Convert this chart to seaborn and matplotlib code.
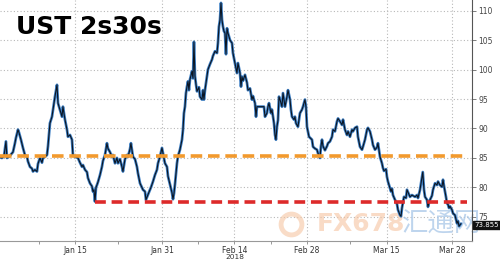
import numpy as np
import pandas as pd
import seaborn as sns
import matplotlib
matplotlib.use("Agg")
import matplotlib.pyplot as plt

# ---- data (x = trading days since Jan 1 2018, y = 2s30s spread, bp) ----
day = [-0.34, -0.07, 0.21, 0.34, 0.48, 0.62, 0.90, 1.17, 1.45, 1.72, 1.86, 2.14, 2.28, 2.55, 2.83,
       3.10, 3.38, 3.52, 3.79, 4.07, 4.21, 4.48, 4.76, 4.90, 5.17, 5.45, 5.59, 5.86, 6.14, 6.28,
       6.55, 6.83, 6.97, 7.24, 7.52, 7.66, 7.93, 8.21, 8.34, 8.62, 8.90, 9.03, 9.31, 9.59, 9.72,
       10.00, 10.41, 10.69, 10.97, 11.10, 11.38, 11.66, 11.79, 12.07, 12.34, 12.48, 12.62, 12.76,
       12.90, 13.03, 13.17, 13.45, 13.72, 13.86, 14.14, 14.41, 14.55, 14.83, 15.10, 15.24, 15.52,
       15.79, 15.93, 16.21, 16.48, 16.62, 16.90, 17.17, 17.31, 17.59, 17.72, 17.86, 18.00, 18.28,
       18.55, 18.69, 18.97, 19.24, 19.38, 19.66, 19.79, 20.07, 20.21, 20.48, 20.76, 21.03, 21.31,
       21.45, 21.72, 22.00, 22.14, 22.41, 22.69, 22.83, 23.10, 23.38, 23.52, 23.66, 23.79, 24.07,
       24.21, 24.48, 24.76, 24.90, 25.03, 25.17, 25.31, 25.45, 25.59, 25.72, 25.86, 26.14, 26.28,
       26.41, 26.55, 26.69, 26.83, 27.10, 27.24, 27.52, 27.66, 27.79, 27.93, 28.21, 28.34, 28.62,
       28.90, 29.03, 29.31, 29.59, 29.72, 29.86, 30.00, 30.14, 30.28, 30.41, 30.55, 30.69, 30.83,
       30.97, 31.10, 31.38, 31.66, 31.79, 32.07, 32.34, 32.48, 32.76, 32.90, 33.03, 33.17, 33.45,
       33.72, 33.86, 34.14, 34.41, 34.55, 34.83, 34.97, 35.10, 36.07, 36.21, 36.48, 36.62, 36.76,
       37.03, 37.17, 37.45, 37.59, 37.72, 37.86, 38.00, 38.14, 38.28, 38.55, 38.69, 38.83, 38.97,
       39.24, 39.38, 39.66, 39.79, 39.93, 40.21, 40.34, 40.48, 40.76, 40.90, 41.03, 41.31, 41.45,
       41.72, 41.86, 42.00, 42.28, 42.69, 42.83, 43.10, 43.38, 43.52, 43.79, 43.93, 44.07, 44.21,
       44.48, 44.76, 44.90, 45.17, 45.45, 45.59, 45.86, 46.14, 46.28, 46.55, 46.83, 46.97, 47.24,
       47.52, 47.66, 47.93, 48.21, 48.34, 48.62, 48.90, 49.03, 49.31, 49.59, 49.72, 50.00, 50.28,
       50.41, 50.69, 50.97, 51.10, 51.38, 51.66, 51.79, 52.07, 52.34, 52.48, 52.62, 52.90, 53.03,
       53.17, 53.45, 53.59, 53.72, 53.86, 54.14, 54.41, 54.55, 54.83, 54.97, 55.10, 55.24, 55.38,
       55.66, 55.79, 55.93, 56.21, 56.48, 56.62, 56.90, 57.17, 57.31, 57.59, 57.97, 58.14, 58.28,
       58.55, 58.69, 58.83, 58.97, 59.24, 59.38, 59.66, 59.93, 60.07, 60.34, 60.62, 60.76, 60.90,
       61.17, 61.31, 61.45, 61.59, 61.72, 62.00, 62.14, 62.41, 62.69, 62.83, 62.97, 63.24]
spread = [85.1, 85.0, 85.3, 86.5, 87.8, 85.0, 85.2, 85.6, 86.0, 87.5, 88.4, 89.8, 89.3, 88.1, 86.7,
          85.5, 85.2, 84.4, 83.5, 83.2, 82.7, 83.0, 82.7, 84.0, 85.0, 84.2, 85.0, 85.2, 85.5, 87.0,
          90.9, 92.0, 93.2, 95.4, 97.4, 94.3, 93.2, 92.0, 93.7, 91.5, 89.8, 88.6, 88.9, 88.1, 85.5,
          85.2, 85.0, 84.2, 83.5, 83.8, 83.0, 82.6, 81.6, 80.7, 80.2, 79.3, 79.6, 77.6,
          80.0, 80.4, 80.9, 82.1, 83.5, 84.5, 85.5, 87.5, 86.6, 86.0, 85.2, 85.5, 84.1,
          85.0, 84.1, 84.8, 83.5, 82.7, 84.8, 85.5, 85.2, 86.5, 87.5, 86.3, 85.2, 84.8,
          83.5, 82.4, 80.7, 80.0, 79.6, 79.3, 77.9, 78.8, 79.2, 80.0, 81.0, 82.1, 83.0,
          84.1, 85.2, 86.7, 85.8, 84.1, 83.5, 81.9, 80.5, 79.1, 78.0, 79.0, 80.5, 84.1,
          85.3, 86.4, 88.1, 89.8, 92.6, 93.7, 96.0, 97.1, 98.0, 96.5, 98.3, 99.7, 98.5,
          104.7, 98.9, 97.5, 96.3, 97.0, 95.4, 94.9, 96.5, 94.9, 96.5, 98.9, 100.0, 100.9,
          101.7, 102.3, 103.1, 102.8, 104.5, 107.3, 108.4, 111.3, 108.4, 107.3, 106.5, 106.2, 102.6,
          107.0, 106.2, 105.0, 104.5, 102.8, 101.1, 99.4, 101.1, 99.4, 97.1, 98.8, 98.1, 99.1,
          97.8, 96.5, 96.8, 94.9, 95.5, 94.3, 92.0, 93.7, 93.7, 92.0, 92.6, 93.7, 94.3,
          92.6, 93.2, 90.9, 88.9, 88.1, 90.3, 91.4, 95.4, 94.9, 93.7, 96.0, 94.9, 93.7,
          95.4, 96.5, 94.9, 93.2, 92.0, 91.5, 92.0, 90.9, 90.3, 91.5, 92.6, 93.2, 93.7,
          94.9, 93.7, 90.3, 88.6, 88.1, 86.9, 86.6, 86.4, 85.8, 85.0, 87.0, 88.1, 87.0,
          86.3, 87.0, 87.5, 87.8, 88.6, 89.8, 89.5, 91.2, 91.7, 91.2, 90.6, 91.5, 89.8,
          88.9, 89.5, 88.6, 89.8, 89.5, 90.1, 90.3, 88.6, 86.9, 86.4, 86.9, 88.1, 89.8,
          90.1, 89.5, 88.1, 87.2, 86.4, 86.8, 87.5, 85.2, 84.1, 83.3, 82.8, 83.1, 81.8,
          81.0, 79.9, 79.3, 79.8, 78.7, 77.9, 77.2, 76.2, 75.3, 75.1, 76.5, 77.5, 78.4,
          78.2, 79.6, 79.2, 78.4, 78.7, 78.6, 78.4, 78.7, 78.2, 79.6, 82.6, 79.6, 78.4,
          77.9, 76.7, 77.4, 77.9, 78.6, 79.6, 80.7, 80.4, 81.0, 80.4, 80.1, 81.3, 80.2,
          78.4, 77.3, 77.1, 76.5, 76.8, 76.2, 75.6, 75.3, 73.9, 74.3, 73.4, 73.855]

tick_days = [10, 22, 32, 42, 53, 62]
tick_labels = ["Jan 15", "Jan 31", "Feb 14", "Feb 28", "Mar 15", "Mar 28"]
year_label = "2018"
year_day = 32
minor_days = [5, 16, 27, 37, 48]
y_ticks = [75, 80, 85, 90, 95, 100, 105, 110]

upper_level = 85.3
upper_start = -0.34
lower_level = 77.5
lower_start = 12.76
level_end = 64.1
last_value = 73.855

df = pd.DataFrame({"day": day, "spread": spread})

sns.set_theme(style="white")
fig = plt.figure(figsize=(5.0, 2.62), dpi=100)
ax = fig.add_axes([0.0, 0.080, 0.944, 0.920])

sns.lineplot(data=df, x="day", y="spread", ax=ax, color="#3d7fc4", lw=2.0,
             estimator=None, sort=False, zorder=3)
sns.lineplot(data=df, x="day", y="spread", ax=ax, color="#0b1522", lw=0.8,
             estimator=None, sort=False, zorder=4)

ax.plot([upper_start, level_end], [upper_level, upper_level], color="#f29a2e",
        lw=2.6, dashes=(3.2, 1.6), zorder=5)
ax.plot([lower_start, level_end], [lower_level, lower_level], color="#dd2a2a",
        lw=2.6, dashes=(3.0, 1.6), zorder=5)

ax.set_xlim(-0.34, 64.76)
ax.set_ylim(70.9, 111.8)

ax.set_xticks(tick_days)
ax.set_xticklabels(tick_labels)
ax.set_xticks(minor_days, minor=True)
ax.set_yticks(y_ticks)
ax.yaxis.tick_right()
ax.set_xlabel("")
ax.set_ylabel("")

ax.grid(True, which="major", color="#b8b8b8", linestyle=(0, (1, 2)), lw=0.8)
ax.tick_params(axis="x", which="major", labelsize=5.5, length=2.5, width=0.6,
               color="#888888", labelcolor="#333333", pad=1.0, direction="out", bottom=True)
ax.tick_params(axis="x", which="minor", length=2, width=0.6, color="#888888", bottom=True)
ax.tick_params(axis="y", which="major", labelsize=5.5, length=3, width=0.6,
               color="#666666", labelcolor="#444444", pad=1.5, right=True, left=False)

ax.annotate(year_label, xy=(year_day, 0), xycoords=("data", "axes fraction"),
            xytext=(0, -9.2), textcoords="offset points", fontsize=5.3,
            color="#333333", ha="center", va="top", annotation_clip=False)

for s in ["left", "top"]:
    ax.spines[s].set_visible(False)
ax.spines["right"].set_color("#555555")
ax.spines["right"].set_linewidth(0.8)
ax.spines["bottom"].set_color("#999999")
ax.spines["bottom"].set_linewidth(0.8)

ax.text(0.033, 0.888, "UST 2s30s", transform=ax.transAxes, fontsize=18,
        fontweight="bold", color="black", ha="left", va="center", family="DejaVu Sans")

# watermark
ax.plot(0.617, 0.07, marker="o", ms=15, mfc="none", mec="#f6c6a2", mew=3.5,
        alpha=0.6, transform=ax.transAxes, zorder=2, clip_on=False)
ax.text(0.672, 0.07, "FX678", transform=ax.transAxes, fontsize=18, fontweight="bold",
        color="#f6c3a0", alpha=0.6, ha="left", va="center", zorder=2)
ax.text(0.852, 0.07, "汇通网", transform=ax.transAxes, fontsize=19,
        color="#a9c7e8", alpha=0.75, ha="left", va="center", zorder=2,
        family=["Noto Sans CJK SC", "DejaVu Sans"])

# last value tag
ax.annotate(f"{last_value:.3f}", xy=(1.0, last_value), xycoords=("axes fraction", "data"),
            xytext=(2, -1.0), textcoords="offset points", fontsize=5.0, color="white",
            ha="left", va="center", annotation_clip=False, zorder=10,
            bbox=dict(boxstyle="square,pad=0.2", fc="#111111", ec="#111111"))

fig.savefig("out.png", dpi=100)
